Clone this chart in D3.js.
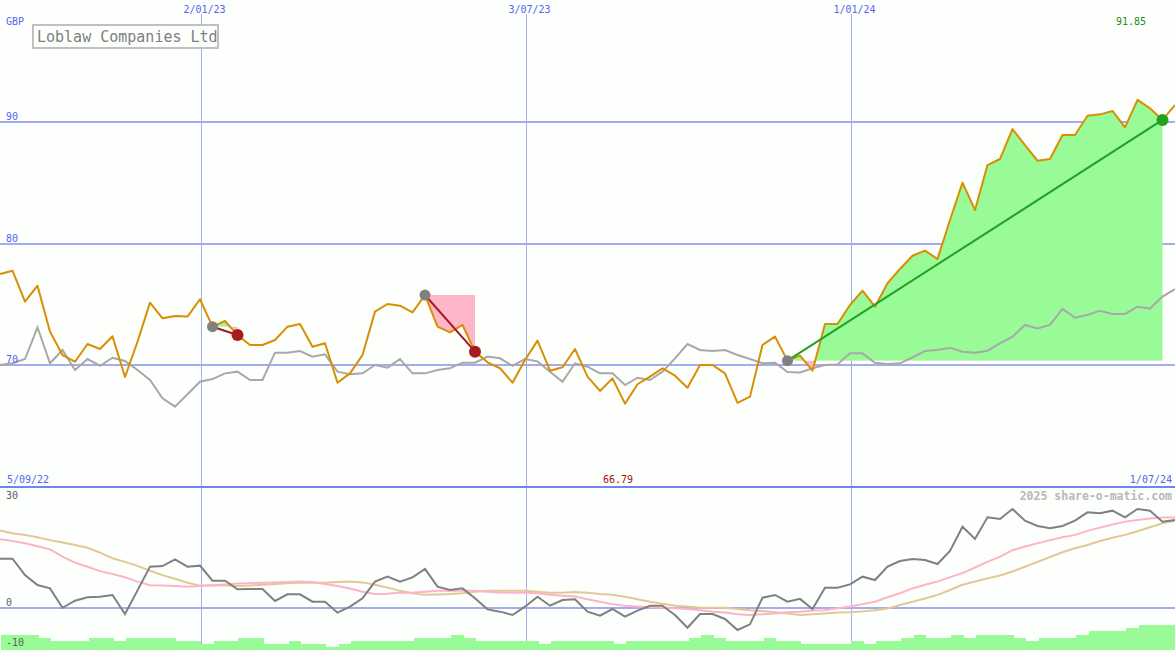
<!DOCTYPE html>
<html><head><meta charset="utf-8">
<script src="https://cdn.jsdelivr.net/npm/d3@7"></script>
<style>
body{margin:0;background:#fcfffc;}
svg{display:block;}
text{font-family:"DejaVu Sans Mono",monospace;}
</style>
</head><body>
<svg id="chart" width="1175" height="650"></svg>
<script>
// ---------- data ----------
const title = "Loblaw Companies Ltd";
const currency = "GBP";
const credit = "2025 share-o-matic.com";
const startDate = "2022-09-12";   // first weekly point
const endDate = "2024-07-01";     // last weekly point
const gridDates = ["2023-01-02", "2023-07-03", "2024-01-01"];
const rangeLabels = ["5/09/22", "1/07/24"];
const priceTicks = [70, 80, 90];
const oscTicks = [30, 0, -10];

// weekly closing price (GBP)
const price = [
  77.48, 77.76, 75.20, 76.52, 72.73, 70.80, 70.25, 71.71, 71.30, 72.35,
  68.99, 71.90, 75.12, 73.83, 74.02, 73.97, 75.40, 73.14, 73.61, 72.45,
  71.63, 71.63, 72.04, 73.14, 73.36, 71.49, 71.77, 68.52, 69.29, 70.80,
  74.38, 75.01, 74.87, 74.32, 75.75, 73.14, 72.67, 73.28, 71.08, 70.20,
  69.71, 68.52, 70.39, 71.99, 69.51, 69.79, 71.30, 69.02, 67.84, 68.88,
  66.79, 68.39, 69.02, 69.71, 69.10, 68.11, 69.98, 69.98, 69.29, 66.85,
  67.37, 71.63, 72.32, 70.34, 70.75, 69.51, 73.36, 73.36, 74.93, 76.11,
  74.79, 76.72, 77.90, 78.99, 79.41, 78.72, 81.94, 85.02, 82.76, 86.47,
  86.97, 89.44, 88.12, 86.83, 86.97, 88.95, 88.95, 90.54, 90.65, 90.93,
  89.58, 91.85, 91.15, 90.19, 91.42
];
// relative-strength comparison line
const relative = [
  69.98, 70.12, 70.47, 73.09, 70.12, 71.22, 69.57, 70.47, 69.92, 70.58,
  70.31, 69.57, 68.74, 67.23, 66.54, 67.56, 68.60, 68.82, 69.29, 69.43,
  68.74, 68.74, 71.00, 71.00, 71.13, 70.67, 70.86, 69.43, 69.21, 69.29,
  69.98, 69.76, 70.47, 69.29, 69.29, 69.57, 69.71, 70.17, 70.17, 70.67,
  70.53, 69.90, 70.47, 70.28, 69.43, 68.60, 70.12, 69.84, 69.29, 69.29,
  68.33, 68.93, 68.74, 69.43, 70.53, 71.71, 71.22, 71.13, 71.22, 70.80,
  70.47, 70.12, 70.17, 69.40, 69.36, 69.71, 69.98, 70.03, 70.94, 70.94,
  70.17, 70.06, 70.12, 70.61, 71.13, 71.22, 71.41, 71.08, 71.00, 71.16,
  71.77, 72.32, 73.28, 73.00, 73.28, 74.60, 73.88, 74.10, 74.46, 74.19,
  74.19, 74.79, 74.65, 75.62, 76.23
];
// lower panel: momentum (%)
const momentum = [
  12.19, 12.19, 8.14, 5.65, 4.82, 0.00, 1.75, 2.58, 2.75, 3.17,
  -1.55, 4.32, 10.21, 10.37, 12.03, 10.21, 10.46, 6.73, 6.73, 4.57,
  4.65, 4.65, 1.68, 3.33, 3.33, 1.51, 1.51, -1.22, 0.27, 2.34,
  6.48, 7.72, 6.48, 7.56, 9.63, 5.24, 4.41, 4.82, 2.34, -0.40,
  -0.97, -1.80, 0.27, 2.75, 0.51, 1.93, 2.09, -0.97, -1.96, -0.31,
  -2.21, -0.72, 0.51, 0.51, -1.80, -4.95, -1.55, -1.55, -2.79, -5.53,
  -4.12, 2.50, 3.17, 1.51, 2.20, -0.31, 4.98, 4.98, 5.81, 7.72,
  6.89, 10.21, 11.62, 12.11, 11.86, 10.87, 14.10, 20.14, 17.08, 22.47,
  22.05, 24.53, 21.63, 20.31, 19.73, 20.31, 21.63, 23.71, 23.46, 24.12,
  22.47, 24.53, 24.12, 21.38, 21.80
];
const maFast = [
  17.0, 16.6, 16.0, 15.3, 14.5, 12.7, 11.2, 10.2, 9.1, 8.4,
  7.6, 6.5, 5.6, 5.5, 5.4, 5.2, 5.4, 5.6, 5.8, 6.0,
  6.1, 6.2, 6.3, 6.4, 6.5, 6.4, 5.9, 5.4, 4.8, 4.0,
  3.4, 3.5, 3.8, 3.7, 4.0, 4.2, 4.2, 4.2, 4.2, 4.0,
  3.8, 3.7, 3.7, 3.6, 3.2, 3.0, 2.8, 2.1, 1.5, 0.9,
  0.5, 0.3, 0.1, 0.0, -0.1, -0.3, -0.6, -1.0, -1.2, -1.6,
  -1.8, -1.6, -1.4, -1.1, -1.0, -0.7, -0.6, -0.1, 0.3, 0.9,
  1.5, 2.6, 3.6, 4.8, 5.7, 6.5, 7.6, 8.6, 10.0, 11.4,
  12.7, 14.3, 15.2, 16.0, 16.8, 17.5, 18.1, 19.1, 19.9, 20.7,
  21.4, 21.8, 22.2, 22.4, 22.4
];
const maSlow = [
  19.2, 18.5, 18.1, 17.5, 16.8, 16.2, 15.6, 14.9, 13.7, 12.3,
  11.4, 10.4, 9.2, 8.1, 7.2, 6.2, 5.5, 5.5, 5.5, 5.4,
  5.5, 5.7, 5.9, 6.1, 6.2, 6.2, 6.2, 6.4, 6.5, 6.3,
  5.7, 5.0, 4.2, 3.6, 3.2, 3.3, 3.4, 3.6, 4.0, 4.2,
  4.2, 4.2, 4.2, 4.0, 3.7, 3.7, 3.9, 3.7, 3.4, 3.2,
  2.75, 2.1, 1.5, 1.0, 0.5, 0.3, 0.0, 0.0, 0.0, -0.3,
  -0.6, -0.8, -1.1, -1.4, -1.8, -1.6, -1.4, -1.2, -1.1, -0.9,
  -0.6, -0.2, 0.7, 1.5, 2.3, 3.2, 4.4, 5.7, 6.5, 7.3,
  8.0, 9.0, 10.2, 11.4, 12.6, 13.8, 14.8, 15.6, 16.6, 17.4,
  18.1, 19.0, 20.0, 21.0, 21.6
];
// weekly volume (relative units)
const volume = [
  5, 5, 5, 3.9, 3, 3, 3, 3.9, 3.9, 3,
  3.9, 3.9, 3.9, 3.9, 3, 3, 2, 3, 3, 3.9,
  3.9, 2, 2, 3, 2, 2, 1.1, 2, 3, 3,
  3, 3, 3, 3.9, 3.9, 3.9, 5, 3.9, 3, 3,
  3, 3, 3, 2, 3, 3, 3, 3, 3, 2,
  3, 3, 3, 3, 3, 3.9, 5, 3.9, 3, 3,
  3, 3.9, 3, 3, 2, 2, 2, 2, 3, 2,
  3, 3, 3.9, 5, 3.9, 3.9, 5, 3.9, 5, 5,
  5, 3.9, 3, 3.9, 3.9, 3.9, 5, 6.3, 6.3, 6.3,
  7.4, 8.3, 8.3, 8.3
];
// trades: week index of entry and exit
const tradeEntries = [17, 34, 63];
const tradeExits = [19, 38, 93];

// ---------- chart ----------
const W = 1175, H = 650;
const panelSplit = 487;
const C = {
  bg: "#fcfffc", grid: "#a3abf3", border: "#7282ee", axisText: "#5566ee",
  price: "#d98e04", relative: "#a8a8a8", momentum: "#808080",
  fast: "#fdb3c8", slow: "#e3c896", gain: "#98fb98", loss: "#ffb6c8",
  gainLine: "#22a022", lossLine: "#a51c1c", entry: "#808080",
  osc: "#606060", maxText: "#228a22", minText: "#a01010"
};

const parse = d3.utcParse("%Y-%m-%d");
const t0 = parse(startDate);
const dates = price.map((_, i) => d3.utcDay.offset(t0, 7 * i));
const x = d3.scaleUtc().domain([t0, parse(endDate)]).range([0, W]);
const yMain = d3.scaleLinear().domain([60, 100]).range([486, 1]);
const yOsc = d3.scaleLinear().domain([-10, 30]).range([648, 487]);
const yVol = d3.scaleLinear().domain([0, 10]).range([H, H - 30]);
const fmt = d3.utcFormat("%-d/%m/%y");

const svg = d3.select("#chart");
svg.append("rect").attr("width", W).attr("height", H).attr("fill", C.bg);

// horizontal grid (main)
svg.append("g").selectAll("line").data(priceTicks).join("line")
  .attr("x1", 0).attr("x2", W)
  .attr("y1", d => Math.round(yMain(d))).attr("y2", d => Math.round(yMain(d)))
  .attr("stroke", C.grid).attr("stroke-width", 2).attr("shape-rendering", "crispEdges");
// vertical grid
const gd = gridDates.map(parse);
svg.append("g").selectAll("line").data(gd).join("line")
  .attr("x1", d => Math.round(x(d)) + 1.5).attr("x2", d => Math.round(x(d)) + 1.5)
  .attr("y1", 14).attr("y2", H)
  .attr("stroke", C.grid).attr("stroke-width", 1).attr("shape-rendering", "crispEdges");
// oscillator zero line
svg.append("line").attr("x1", 0).attr("x2", W)
  .attr("y1", Math.round(yOsc(0))).attr("y2", Math.round(yOsc(0)))
  .attr("stroke", C.grid).attr("stroke-width", 2).attr("shape-rendering", "crispEdges");
// panel border
svg.append("line").attr("x1", 0).attr("x2", W).attr("y1", panelSplit).attr("y2", panelSplit)
  .attr("stroke", C.border).attr("stroke-width", 2).attr("shape-rendering", "crispEdges");

// trade fills
const defs = svg.append("defs");
const tradeG = svg.append("g");
tradeEntries.forEach((e, k) => {
  const xEnd = tradeExits[k];
  const idx = d3.range(e, xEnd + 1);
  const level = price[e];
  const yl = yMain(level);
  const area = d3.area().x(i => x(dates[i])).y0(yl).y1(i => yMain(price[i]));
  const cUp = "clipUp" + k, cDn = "clipDn" + k;
  defs.append("clipPath").attr("id", cUp).append("rect")
    .attr("x", 0).attr("y", 0).attr("width", W).attr("height", yl);
  defs.append("clipPath").attr("id", cDn).append("rect")
    .attr("x", 0).attr("y", yl).attr("width", W).attr("height", panelSplit - yl);
  tradeG.append("path").datum(idx).attr("d", area).attr("fill", C.gain).attr("clip-path", `url(#${cUp})`);
  tradeG.append("path").datum(idx).attr("d", area).attr("fill", C.loss).attr("clip-path", `url(#${cDn})`);
});

// price & relative lines
const lineMain = arr => d3.line().x((d, i) => x(dates[i])).y(d => yMain(d))(arr);
svg.append("path").attr("d", lineMain(relative)).attr("fill", "none")
  .attr("stroke", C.relative).attr("stroke-width", 2);
svg.append("path").attr("d", lineMain(price)).attr("fill", "none")
  .attr("stroke", C.price).attr("stroke-width", 2).attr("stroke-linejoin", "round");

// trade connectors and markers
tradeEntries.forEach((e, k) => {
  const xi = tradeExits[k];
  const win = price[xi] >= price[e];
  svg.append("line")
    .attr("x1", x(dates[e])).attr("y1", yMain(price[e]))
    .attr("x2", x(dates[xi])).attr("y2", yMain(price[xi]))
    .attr("stroke", win ? C.gainLine : C.lossLine).attr("stroke-width", 2);
  svg.append("circle").attr("cx", x(dates[e])).attr("cy", yMain(price[e])).attr("r", 5.5)
    .attr("fill", C.entry);
  svg.append("circle").attr("cx", x(dates[xi])).attr("cy", yMain(price[xi])).attr("r", 6)
    .attr("fill", win ? C.gainLine : C.lossLine);
});

// lower panel lines
const lineOsc = arr => d3.line().x((d, i) => x(dates[i])).y(d => yOsc(d))(arr);
svg.append("path").attr("d", lineOsc(maSlow)).attr("fill", "none").attr("stroke", C.slow).attr("stroke-width", 2);
svg.append("path").attr("d", lineOsc(maFast)).attr("fill", "none").attr("stroke", C.fast).attr("stroke-width", 2);
svg.append("path").attr("d", lineOsc(momentum)).attr("fill", "none").attr("stroke", C.momentum).attr("stroke-width", 2);

// volume bars
svg.append("g").selectAll("rect").data(volume).join("rect")
  .attr("x", (d, i) => Math.round(x(dates[i])) + 1)
  .attr("width", (d, i) => Math.round(x(dates[i + 1])) - Math.round(x(dates[i])))
  .attr("y", d => Math.round(yVol(d)))
  .attr("height", d => H - Math.round(yVol(d)))
  .attr("fill", C.gain).attr("shape-rendering", "crispEdges");

// ---------- text ----------
svg.append("text").attr("x", 6).attr("y", 24.5).attr("font-size", 10).attr("fill", C.axisText).text(currency);
svg.append("g").selectAll("text").data(priceTicks).join("text")
  .attr("x", 6).attr("y", d => Math.round(yMain(d)) - 2)
  .attr("font-size", 10).attr("fill", C.axisText).text(d => d);
svg.append("g").selectAll("text").data(gd).join("text")
  .attr("x", d => Math.round(x(d)) + 4.5).attr("y", 13).attr("text-anchor", "middle")
  .attr("font-size", 10).attr("fill", C.axisText).text(d => fmt(d));
svg.append("text").attr("x", 7).attr("y", 483).attr("font-size", 10).attr("fill", C.axisText).text(rangeLabels[0]);
svg.append("text").attr("x", 1172).attr("y", 483).attr("text-anchor", "end")
  .attr("font-size", 10).attr("fill", C.axisText).text(rangeLabels[1]);

const iMax = d3.maxIndex(price), iMin = d3.minIndex(price);
svg.append("text").attr("x", x(dates[iMax]) - 6.5).attr("y", 25).attr("text-anchor", "middle")
  .attr("font-size", 10).attr("fill", C.maxText).text(price[iMax].toFixed(2));
svg.append("text").attr("x", x(dates[iMin]) - 7).attr("y", 483).attr("text-anchor", "middle")
  .attr("font-size", 10).attr("fill", C.minText).text(price[iMin].toFixed(2));

svg.append("g").selectAll("text").data(oscTicks).join("text")
  .attr("x", 6)
  .attr("y", d => Math.min(Math.max(Math.round(yOsc(d)) - 2, panelSplit + 12), H - 4))
  .attr("font-size", 10).attr("fill", C.osc).text(d => d);
svg.append("text").attr("x", 1172).attr("y", 500).attr("text-anchor", "end")
  .attr("font-size", 11.5).attr("font-weight", "bold").attr("fill", "#b8b8b8").text(credit);

// title box
svg.append("rect").attr("x", 33).attr("y", 25).attr("width", 185).attr("height", 23)
  .attr("fill", C.bg).attr("stroke", "#c0c0c0").attr("stroke-width", 2);
svg.append("text").attr("x", 37).attr("y", 42).attr("font-size", 15).attr("fill", "#808080").text(title);
</script>
</body></html>
